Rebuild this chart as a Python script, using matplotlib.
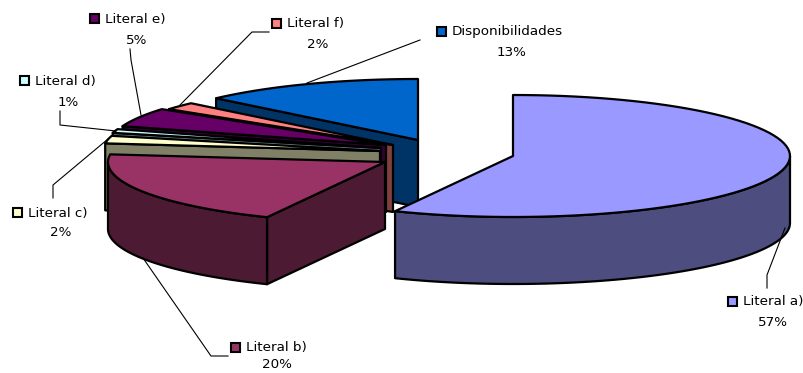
import numpy as np
from matplotlib import pyplot as plt
from matplotlib.patches import Polygon, Rectangle

labels = ["Literal a)", "Literal b)", "Literal c)", "Literal d)", "Literal e)", "Literal f)", "Disponibilidades"]
values = [57, 20, 2, 1, 5, 2, 13]
top_colors = ["#9999FF", "#993366", "#FFFFCC", "#CCFFFF", "#660066", "#FF8080", "#0066CC"]
side_colors = ["#4D4D80", "#4D1A33", "#808066", "#668080", "#330033", "#804040", "#003366"]

# apex of each exploded slice, in pixels
centers = [(513, 156), (385, 162), (380, 151), (381, 148), (386, 145), (393, 145), (418, 140)]
# back to front
draw_order = [6, 5, 4, 3, 2, 1, 0]

# where each label goes: marker left, name y, percent centre x, percent y
label_pos = [
    (728, 301, 773, 322),
    (231, 347, 277, 365),
    (13, 212, 61, 233),
    (20, 80, 68, 102),
    (90, 18, 137, 40),
    (272, 23, 318, 45),
    (437, 31, 512, 53),
]
leaders = [
    [(785, 228), (767, 275), (767, 288)],
    [(143, 258), (211, 356), (228, 356)],
    [(53, 198), (53, 185), (108, 139)],
    [(60, 111), (60, 125), (116, 131)],
    [(130, 49), (131, 60), (141, 115)],
    [(269, 32), (252, 32), (180, 105)],
    [(420, 40), (307, 83)],
]

RX = 277
RY = 61
DEPTH = 67
EDGE = 1.6


def rim_point(center, angle):
    # angle is clockwise from twelve o'clock, in degrees
    a = np.radians(angle)
    return center[0] + RX * np.sin(a), center[1] - RY * np.cos(a)


def arc(center, start, end):
    angles = np.linspace(start, end, 80)
    return [rim_point(center, t) for t in angles]


def add_poly(ax, pts, color):
    ax.add_patch(Polygon(pts, closed=True, facecolor=color, edgecolor="black", linewidth=EDGE, joinstyle="round"))


def draw_slice(ax, center, start, end, top, side):
    # cut face on the starting radius, only when it looks towards the viewer
    if 180 < start < 360:
        edge = rim_point(center, start)
        add_poly(ax, [center, edge, (edge[0], edge[1] + DEPTH), (center[0], center[1] + DEPTH)], side)

    # outer wall: only the front half of the ellipse shows
    front_start = max(start, 90)
    front_end = min(end, 270)
    if front_start < front_end:
        upper = arc(center, front_start, front_end)
        lower = [(x, y + DEPTH) for x, y in upper]
        add_poly(ax, upper + lower[::-1], side)

    add_poly(ax, [center] + arc(center, start, end), top)


fig = plt.figure(figsize=(8.04, 3.73), dpi=100)
ax = fig.add_axes([0, 0, 1, 1])
ax.set_xlim(0, 804)
ax.set_ylim(373, 0)
ax.axis("off")

bounds = np.cumsum([0] + values) * 3.6

for i in draw_order:
    draw_slice(ax, centers[i], bounds[i], bounds[i + 1], top_colors[i], side_colors[i])

for pts in leaders:
    xs, ys = zip(*pts)
    ax.plot(xs, ys, color="black", linewidth=0.8)

for i, name in enumerate(labels):
    mx, ny, px, py = label_pos[i]
    ax.add_patch(Rectangle((mx, ny - 4.5), 9, 9, facecolor=top_colors[i], edgecolor="black", linewidth=1.5))
    ax.text(mx + 15, ny + 1, name, family="DejaVu Sans", fontsize=9.7, va="center", ha="left")
    ax.text(px, py, f"{values[i]}%", family="DejaVu Sans", fontsize=9.7, va="center", ha="center")

fig.savefig("out.png", dpi=100)
